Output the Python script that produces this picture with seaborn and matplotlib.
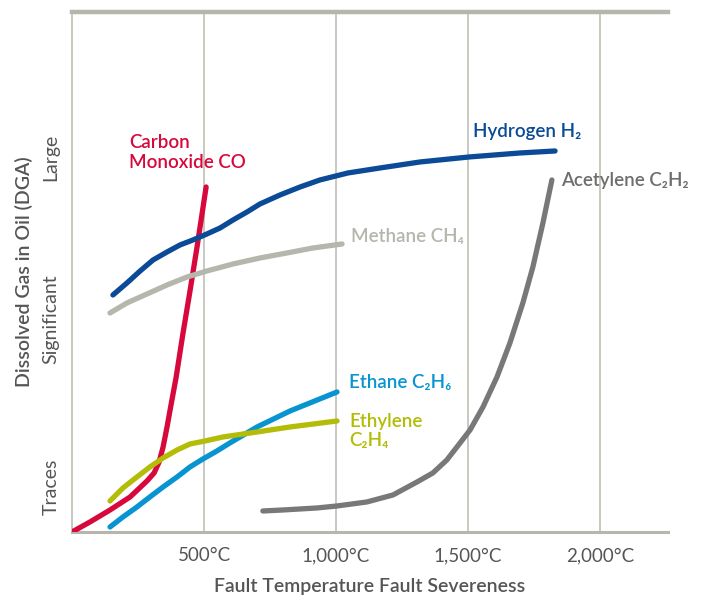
import matplotlib
matplotlib.use("Agg")
import matplotlib.pyplot as plt
import numpy as np
import pandas as pd
import seaborn as sns

# values (x in °C, y in arbitrary gas-level units 0..520)
co_x = [0, 68, 144, 220, 284, 311, 330, 345, 360, 375, 394, 420, 447, 473, 492, 508]
co_y = [0, 10, 22, 35, 51, 59, 70, 85, 105, 127, 154, 198, 241, 284, 317, 345]

h2_x = [155, 208, 258, 307, 360, 409, 458, 511, 561, 610, 663, 712, 788, 864, 939,
        1045, 1167, 1318, 1504, 1697, 1830]
h2_y = [237, 249, 261, 272, 280, 287, 292, 298, 304, 312, 320, 328, 337, 345, 352,
        359, 364, 370, 375, 379, 381]

ch4_x = [144, 208, 284, 360, 436, 511, 610, 712, 814, 913, 1023]
ch4_y = [219, 229, 238, 247, 255, 261, 268, 274, 279, 284, 288]

c2h6_x = [144, 193, 246, 295, 345, 398, 447, 496, 549, 598, 701, 826, 1004]
c2h6_y = [5, 15, 25, 35, 45, 55, 65, 73, 81, 89, 105, 121, 140]

c2h4_x = [144, 193, 246, 295, 345, 398, 447, 504, 572, 701, 826, 1004]
c2h4_y = [31, 44, 55, 65, 74, 82, 88, 91, 95, 100, 105, 111]

c2h2_x = [723, 799, 928, 1004, 1117, 1216, 1307, 1367, 1420, 1470, 1508, 1557, 1610,
          1659, 1708, 1746, 1784, 1818]
c2h2_y = [21, 22, 24, 26, 30, 37, 50, 59, 72, 89, 102, 125, 155, 189, 229, 265, 309, 352]

x_ticks = [500, 1000, 1500, 2000]
x_ticklabels = ["500°C", "1,000°C", "1,500°C", "2,000°C"]
level_labels = ["Traces", "Significant", "Large"]

sns.set_style("white")
plt.rcParams["font.family"] = ["Lato", "DejaVu Sans"]

fig = plt.figure(figsize=(7.04, 5.99), dpi=100)
ax = fig.add_axes([0.1023, 0.1119, 0.8466, 0.8681])

series = [
    ("Carbon Monoxide CO", co_x, co_y, "#D7083C"),
    ("Hydrogen H2", h2_x, h2_y, "#0B4A96"),
    ("Methane CH4", ch4_x, ch4_y, "#B5B6AC"),
    ("Ethane C2H6", c2h6_x, c2h6_y, "#0894D0"),
    ("Ethylene C2H4", c2h4_x, c2h4_y, "#B3BC07"),
    ("Acetylene C2H2", c2h2_x, c2h2_y, "#787878"),
]

for name, xs, ys, col in series:
    df = pd.DataFrame({"x": xs, "y": ys})
    sns.lineplot(data=df, x="x", y="y", ax=ax, sort=False, estimator=None,
                 color=col, lw=3.8, solid_capstyle="round",
                 solid_joinstyle="round", zorder=3)

ax.set_xlim(0, 2258)
ax.set_ylim(0, 520)

for t in x_ticks:
    ax.axvline(t, color="#C9C9C1", lw=1.4, zorder=1)

ax.set_xticks(x_ticks)
ax.set_xticklabels(x_ticklabels, fontsize=13.5, color="#555555")
ax.tick_params(axis="x", length=0, pad=11)
ax.set_yticks([45, 213, 375])
ax.set_yticklabels(level_labels, rotation=90, va="center", fontsize=14, color="#555555")
ax.tick_params(axis="y", length=0, pad=9)

ax.set_xlabel("Fault Temperature Fault Severeness", fontsize=14, color="#555555",
              fontweight="semibold", labelpad=10)
ax.set_ylabel("Dissolved Gas in Oil (DGA)", fontsize=14, color="#555555",
              fontweight="semibold", labelpad=7)

ax.spines["right"].set_visible(False)
ax.spines["top"].set_color("#B5B6AC")
ax.spines["top"].set_linewidth(3.2)
ax.spines["bottom"].set_color("#B5B6AC")
ax.spines["bottom"].set_linewidth(2.2)
ax.spines["left"].set_color("#C9C9C1")
ax.spines["left"].set_linewidth(1.4)

lab = dict(fontsize=13.5, fontweight="semibold")
ax.text(216, 398, "Carbon\nMonoxide CO", color="#D7083C", va="top", ha="left",
        linespacing=1.2, **lab)
ax.text(1519, 400, "Hydrogen H₂", color="#0B4A96", va="center", ha="left", **lab)
ax.text(1852, 351, "Acetylene C₂H₂", color="#6E6E6E", va="center", ha="left", **lab)
ax.text(1057, 295, "Methane CH₄", color="#B5B6AC", va="center", ha="left", **lab)
ax.text(1049, 149, "Ethane C₂H₆", color="#0894D0", va="center", ha="left", **lab)
ax.text(1049, 101, "Ethylene\nC₂H₄", color="#B3BC07", va="center", ha="left",
        linespacing=1.2, **lab)

fig.savefig("out.png", dpi=100)
